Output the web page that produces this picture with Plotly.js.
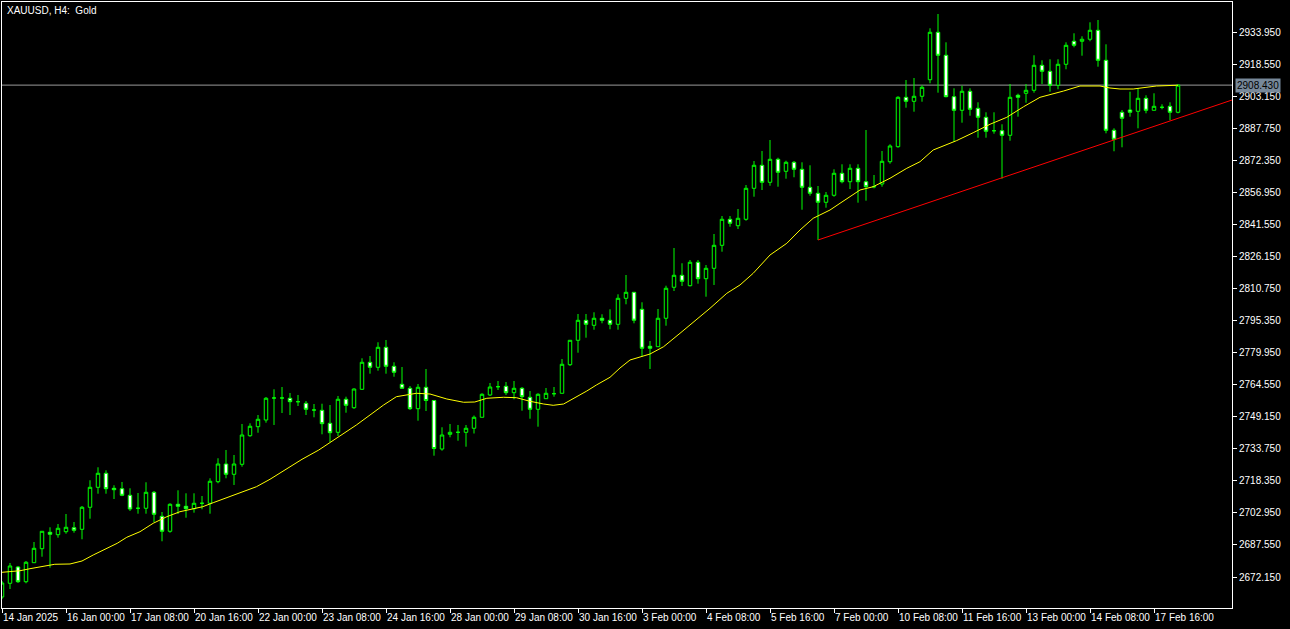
<!DOCTYPE html>
<html>
<head>
<meta charset="utf-8">
<script src="https://cdn.plot.ly/plotly-3.0.1.min.js"></script>
<style>
  html, body { margin: 0; padding: 0; background: #000000; }
  #chart { width: 1290px; height: 629px; }
</style>
</head>
<body>
<div id="chart"></div>
<script>
// ---- Data (XAUUSD H4) ----
const openP = [
  2662.55, 2669.13, 2676.96, 2669.89, 2679.02, 2685.74, 2693.63, 2692.47, 2693.91, 2695.83,
  2695.07, 2705.64, 2715.24, 2721.97, 2714.76, 2714.56, 2711.40, 2705.16, 2705.16, 2712.84,
  2701.31, 2694.11, 2707.08, 2706.12, 2704.96, 2707.56, 2707.56, 2717.93, 2726.43, 2721.49,
  2726.29, 2740.02, 2744.35, 2747.57, 2758.14, 2758.14, 2758.00, 2756.36, 2755.59, 2752.37,
  2752.23, 2745.99, 2741.66, 2757.52, 2753.47, 2762.32, 2775.29, 2772.89, 2782.49, 2773.37,
  2764.72, 2762.80, 2752.99, 2763.28, 2756.94, 2733.64, 2740.70, 2741.66, 2741.66, 2743.59,
  2748.87, 2759.58, 2763.56, 2763.76, 2760.68, 2762.79, 2758.48, 2752.71, 2757.80, 2760.20,
  2760.40, 2774.13, 2785.86, 2795.46, 2793.06, 2796.43, 2795.46, 2793.54, 2806.03, 2808.91,
  2800.75, 2782.98, 2782.78, 2796.43, 2811.32, 2817.08, 2812.08, 2823.33, 2815.44, 2820.44,
  2831.49, 2843.98, 2840.90, 2843.98, 2858.87, 2869.92, 2861.75, 2872.80, 2867.04, 2871.36,
  2868.00, 2859.35, 2856.47, 2852.15, 2855.51, 2866.08, 2862.03, 2868.48, 2862.03, 2859.63,
  2860.93, 2871.64, 2878.85, 2902.58, 2900.66, 2903.07, 2911.03, 2933.81, 2922.76, 2902.87,
  2896.34, 2905.47, 2897.30, 2892.98, 2886.53, 2886.53, 2884.33, 2903.55, 2904.51, 2905.95,
  2917.96, 2915.07, 2908.35, 2918.44, 2929.49, 2929.49, 2930.45, 2934.77, 2920.36, 2886.73,
  2895.38, 2896.48, 2895.86, 2902.10, 2896.34, 2897.78, 2898.26, 2895.38
];
const highP = [
  2670.23, 2678.88, 2677.44, 2679.84, 2688.96, 2694.11, 2696.03, 2697.61, 2702.41, 2698.57,
  2706.26, 2718.61, 2724.85, 2723.41, 2716.21, 2717.79, 2714.76, 2712.50, 2717.65, 2713.46,
  2703.38, 2707.56, 2713.80, 2712.36, 2712.36, 2711.06, 2719.57, 2729.18, 2733.16, 2730.76,
  2745.65, 2745.99, 2749.97, 2758.62, 2762.32, 2763.42, 2760.54, 2759.58, 2756.70, 2755.25,
  2755.39, 2754.77, 2759.10, 2758.76, 2762.79, 2777.21, 2778.31, 2784.90, 2786.00, 2775.29,
  2773.03, 2763.90, 2764.86, 2772.07, 2757.20, 2744.07, 2745.65, 2745.17, 2745.17, 2749.73,
  2760.40, 2765.34, 2766.30, 2765.82, 2766.30, 2763.42, 2761.50, 2760.40, 2762.94, 2763.42,
  2776.87, 2785.86, 2798.49, 2798.49, 2799.31, 2798.35, 2800.75, 2807.95, 2817.22, 2808.91,
  2804.11, 2785.52, 2800.89, 2812.08, 2830.19, 2822.85, 2824.43, 2824.43, 2822.02, 2836.92,
  2845.56, 2845.56, 2848.92, 2860.45, 2871.98, 2876.79, 2882.07, 2873.56, 2872.12, 2871.98,
  2871.36, 2869.92, 2859.97, 2857.09, 2868.00, 2870.40, 2870.40, 2870.40, 2886.87, 2865.26,
  2876.79, 2880.01, 2903.07, 2910.89, 2911.85, 2908.35, 2935.73, 2942.59, 2929.00, 2906.91,
  2908.15, 2906.91, 2900.18, 2895.38, 2895.38, 2889.62, 2908.97, 2904.31, 2908.97, 2922.76,
  2920.36, 2920.84, 2920.84, 2929.00, 2933.33, 2931.89, 2938.61, 2939.71, 2928.04, 2887.69,
  2896.48, 2905.27, 2906.91, 2903.55, 2904.51, 2899.22, 2900.18, 2908.70
];
const lowP = [
  2661.58, 2666.39, 2669.27, 2669.13, 2679.02, 2681.90, 2676.62, 2691.03, 2692.95, 2693.43,
  2690.27, 2700.15, 2712.16, 2712.16, 2709.62, 2711.00, 2703.86, 2702.56, 2702.56, 2698.43,
  2689.31, 2693.43, 2702.41, 2700.63, 2703.04, 2704.68, 2702.56, 2717.17, 2719.57, 2716.35,
  2725.13, 2739.50, 2741.46, 2746.27, 2745.17, 2750.93, 2749.97, 2754.29, 2749.97, 2748.87,
  2740.70, 2737.00, 2739.88, 2751.07, 2752.90, 2761.98, 2769.81, 2771.25, 2769.81, 2768.36,
  2762.80, 2752.37, 2747.23, 2751.89, 2730.42, 2732.82, 2739.26, 2737.62, 2734.74, 2741.08,
  2748.87, 2759.10, 2761.98, 2759.58, 2757.52, 2752.03, 2748.19, 2744.35, 2757.80, 2758.76,
  2760.40, 2773.51, 2779.89, 2787.10, 2790.94, 2794.02, 2791.14, 2790.94, 2803.15, 2794.02,
  2777.97, 2772.07, 2782.78, 2792.86, 2809.54, 2811.94, 2811.74, 2813.04, 2806.79, 2812.42,
  2828.41, 2840.42, 2839.32, 2843.30, 2854.83, 2858.05, 2860.11, 2859.63, 2863.48, 2864.16,
  2848.58, 2855.31, 2834.03, 2849.55, 2854.83, 2861.27, 2858.53, 2851.95, 2852.91, 2858.87,
  2859.63, 2870.68, 2878.37, 2897.58, 2895.66, 2900.46, 2909.31, 2904.79, 2902.58, 2881.25,
  2890.38, 2893.74, 2883.17, 2883.17, 2885.09, 2863.48, 2881.73, 2893.26, 2899.98, 2904.79,
  2908.97, 2905.27, 2906.43, 2916.04, 2926.60, 2922.56, 2929.49, 2917.28, 2885.29, 2876.65,
  2878.57, 2893.26, 2887.69, 2894.90, 2896.34, 2896.82, 2891.54, 2894.90
];
const closeP = [
  2669.27, 2677.44, 2669.89, 2679.22, 2685.94, 2694.11, 2692.67, 2695.55, 2696.03, 2694.59,
  2705.64, 2715.24, 2721.97, 2714.56, 2714.08, 2711.40, 2704.82, 2705.16, 2712.84, 2702.27,
  2694.11, 2707.08, 2706.12, 2704.96, 2707.56, 2707.56, 2718.13, 2726.43, 2721.49, 2726.43,
  2740.36, 2744.55, 2747.91, 2758.00, 2758.14, 2758.14, 2756.36, 2756.36, 2752.71, 2752.37,
  2745.79, 2741.46, 2757.52, 2754.63, 2762.46, 2775.29, 2772.89, 2782.49, 2773.37, 2770.49,
  2762.80, 2752.99, 2763.28, 2756.94, 2733.88, 2740.36, 2741.66, 2741.66, 2743.59, 2748.87,
  2759.92, 2763.42, 2763.56, 2760.68, 2762.79, 2758.76, 2752.71, 2759.92, 2760.40, 2760.20,
  2774.33, 2785.86, 2795.46, 2793.54, 2796.43, 2795.46, 2793.54, 2806.03, 2808.91, 2795.51,
  2782.01, 2782.01, 2796.43, 2810.84, 2817.08, 2814.20, 2823.33, 2815.44, 2820.44, 2831.49,
  2843.98, 2842.06, 2844.46, 2858.87, 2869.92, 2861.75, 2872.80, 2866.56, 2871.36, 2868.00,
  2859.35, 2856.47, 2852.15, 2855.51, 2866.08, 2862.03, 2868.48, 2862.03, 2859.63, 2859.63,
  2871.84, 2879.19, 2902.58, 2900.66, 2903.07, 2907.39, 2933.81, 2922.76, 2902.87, 2896.34,
  2905.47, 2896.82, 2892.98, 2886.25, 2886.53, 2884.33, 2902.58, 2902.58, 2905.95, 2917.96,
  2915.07, 2908.35, 2918.44, 2927.56, 2927.56, 2930.45, 2934.77, 2920.36, 2886.73, 2882.41,
  2892.50, 2895.38, 2902.10, 2896.34, 2898.26, 2897.78, 2895.38, 2908.43
];

// Moving average (yellow), read at bar positions
const maX = [0, 2.25, 3.5, 5.1, 6.6, 8.5, 10, 11.4, 13.1, 14.4, 15.6, 17.25, 18.9, 20.6, 22.25, 23.9,
  25.1, 26.4, 27.5, 30.2, 31.8, 33.5, 37.5, 39.6, 41, 42.7, 44.3, 46, 47.7, 49.3, 50.2, 51.8, 53.5,
  54.75, 55.6, 57.7, 59.1, 60.6, 62.7, 64.3, 66, 67.7, 68.9, 70.2, 71.8, 73.1, 74.3, 76, 77.25, 78.5,
  81, 82.7, 84.75, 86.8, 88.5, 90.6, 92.25, 93.9, 96, 98.1, 99.75, 101.4, 103.5, 104.75, 107.25,
  108.9, 111, 113.1, 114.75, 116.4, 118.1, 119.3, 121.4, 123.5, 125.6, 127.7, 129.75, 131.8, 132.7,
  134.75, 137.25, 138.5, 139.75, 141.4, 142.7, 144.3, 146.8, 147];
const maY = [2674.41, 2675.17, 2676.14, 2677.30, 2678.26, 2678.40, 2679.84, 2682.72, 2685.94, 2688.34,
  2691.23, 2693.91, 2697.95, 2701.11, 2703.52, 2704.82, 2705.92, 2707.84, 2709.48, 2713.12, 2715.52,
  2719.09, 2728.69, 2733.16, 2736.66, 2741.18, 2745.17, 2749.97, 2754.77, 2758.76, 2759.44, 2760.40,
  2760.06, 2758.48, 2757.66, 2756.08, 2756.22, 2758.00, 2758.48, 2758.28, 2756.56, 2755.25, 2754.63,
  2755.25, 2758.48, 2761.50, 2764.38, 2768.08, 2772.55, 2776.39, 2779.27, 2782.78, 2789.22, 2795.60,
  2801.23, 2808.43, 2812.42, 2818.04, 2826.83, 2832.45, 2838.84, 2844.46, 2848.44, 2851.67, 2858.05,
  2859.63, 2863.68, 2868.48, 2871.64, 2877.27, 2880.01, 2881.73, 2885.57, 2889.62, 2892.98, 2898.06,
  2902.58, 2904.51, 2905.61, 2908.01, 2908.01, 2907.05, 2906.57, 2906.57, 2907.19, 2908.01, 2908.35,
  2908.35];

// Trend line (red) and current price line
const trendX = [102, 154];
const trendY = [2834.03, 2901.60];
const lastPrice = 2908.43;

// Axis ticks
const priceTicks = [2672.15, 2687.55, 2702.95, 2718.35, 2733.75, 2749.15, 2764.55, 2779.95, 2795.35,
  2810.75, 2826.15, 2841.55, 2856.95, 2872.35, 2887.75, 2903.15, 2918.55, 2933.95];
const timeTickBars = [0, 8, 16, 24, 32, 40, 48, 56, 64, 72, 80, 88, 96, 104, 112, 120, 128, 136, 144];
const timeTickLabels = ["14 Jan 2025", "16 Jan 00:00", "17 Jan 08:00", "20 Jan 16:00", "22 Jan 00:00",
  "23 Jan 08:00", "24 Jan 16:00", "28 Jan 00:00", "29 Jan 08:00", "30 Jan 16:00", "3 Feb 00:00",
  "4 Feb 08:00", "5 Feb 16:00", "7 Feb 00:00", "10 Feb 08:00", "11 Feb 16:00", "13 Feb 00:00",
  "14 Feb 08:00", "17 Feb 16:00"];

const barIdx = openP.map((_, i) => i);
const FONT = "Liberation Sans, Arial, sans-serif";

const traces = [
  {
    type: "candlestick",
    x: barIdx, open: openP, high: highP, low: lowP, close: closeP,
    increasing: { line: { color: "#00ff00", width: 1 }, fillcolor: "#000000" },
    decreasing: { line: { color: "#00ff00", width: 1 }, fillcolor: "#ffffff" },
    whiskerwidth: 0,
    hoverinfo: "skip",
    showlegend: false
  },
  {
    type: "scatter", mode: "lines",
    x: maX, y: maY,
    line: { color: "#ffff00", width: 1 },
    hoverinfo: "skip", showlegend: false
  },
  {
    type: "scatter", mode: "lines",
    x: trendX, y: trendY,
    line: { color: "#ff0000", width: 1 },
    hoverinfo: "skip", showlegend: false
  }
];

const layout = {
  width: 1290, height: 629,
  paper_bgcolor: "#000000", plot_bgcolor: "#000000",
  margin: { l: 2, r: 58, t: 2, b: 21, pad: 0 },
  showlegend: false,
  boxgap: 0.38,
  font: { family: FONT, size: 10, color: "#ffffff" },
  xaxis: {
    type: "linear",
    range: [0, 153.75],
    rangeslider: { visible: false },
    tickmode: "array", tickvals: timeTickBars, ticktext: timeTickLabels,
    tickangle: 0,
    ticks: "outside", ticklen: 4, tickwidth: 1, tickcolor: "#ffffff",
    ticklabelposition: "outside right",
    ticklabelstandoff: 0,
    tickfont: { family: FONT, size: 10, color: "#ffffff" },
    showline: true, linecolor: "#ffffff", linewidth: 1, mirror: true,
    showgrid: false, zeroline: false, fixedrange: true, automargin: false
  },
  yaxis: {
    side: "right",
    range: [2657.26, 2948.36],
    tickmode: "array", tickvals: priceTicks, ticktext: priceTicks.map(v => v.toFixed(3)),
    ticks: "outside", ticklen: 4, tickwidth: 1, tickcolor: "#ffffff",
    tickfont: { family: FONT, size: 10, color: "#ffffff" },
    showline: true, linecolor: "#ffffff", linewidth: 1, mirror: true,
    showgrid: false, zeroline: false, fixedrange: true, automargin: false
  },
  shapes: [
    { type: "line", xref: "paper", x0: 0, x1: 1, yref: "y", y0: lastPrice, y1: lastPrice,
      line: { color: "#9a9a9a", width: 1 }, layer: "below" }
  ],
  annotations: [
    { text: "XAUUSD, H4:&nbsp; Gold", xref: "paper", yref: "paper", x: 0, y: 1,
      xanchor: "left", yanchor: "top", xshift: 3, yshift: -1, showarrow: false,
      font: { family: FONT, size: 10, color: "#ffffff" } },
    { text: lastPrice.toFixed(3), xref: "paper", yref: "y", x: 1, y: lastPrice,
      xanchor: "left", yanchor: "middle", xshift: 3, showarrow: false,
      bgcolor: "#778899", borderpad: 1,
      font: { family: FONT, size: 10, color: "#000000" } }
  ]
};

Plotly.newPlot("chart", traces, layout, { displayModeBar: false, staticPlot: true });
</script>
</body>
</html>
